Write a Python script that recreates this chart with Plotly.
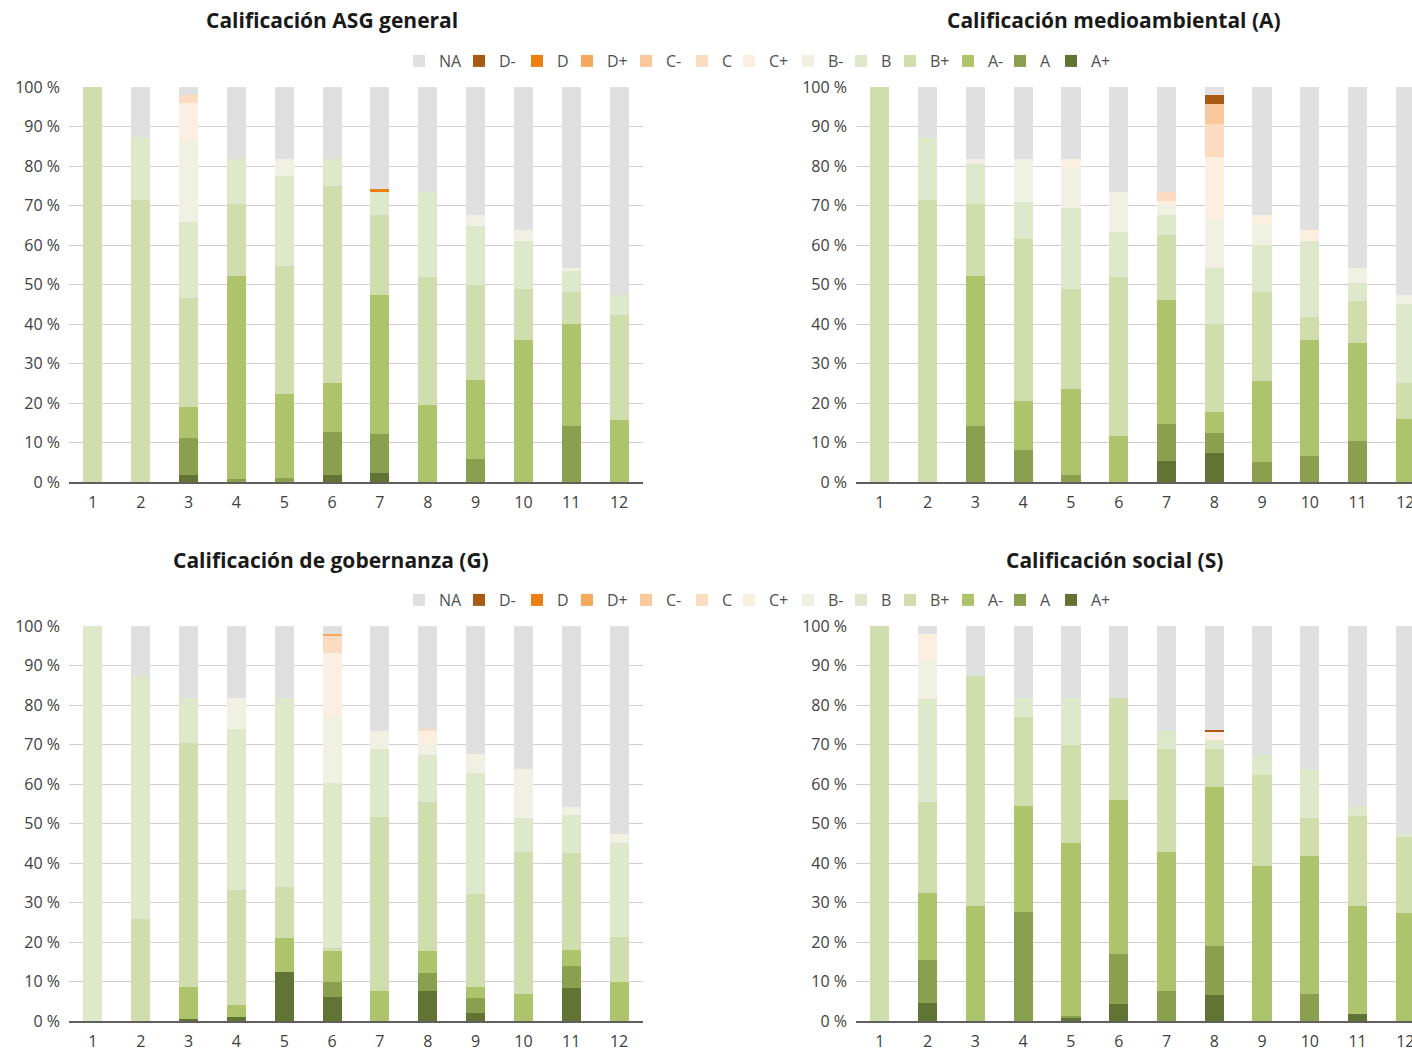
import plotly.graph_objects as go

# ---------------- data ----------------
bars = [1, 2, 3, 4, 5, 6, 7, 8, 9, 10, 11, 12]
# stacking order (bottom -> top)
grades = ["A+", "A", "A-", "B+", "B", "B-", "C+", "C", "C-", "D+", "D", "D-", "NA"]
# legend order (left -> right)
legend_order = ["NA", "D-", "D", "D+", "C-", "C", "C+", "B-", "B", "B+", "A-", "A", "A+"]
colors = {
    "NA": "#e0e0e0", "D-": "#a85a14", "D": "#ee8012", "D+": "#f5a95c",
    "C-": "#f9c99c", "C": "#fcdcc0", "C+": "#fbefe2", "B-": "#f0f1e2",
    "B": "#dee8cb", "B+": "#d0ddad", "A-": "#adc46c", "A": "#8ba04e", "A+": "#627434",
}
titles = ["Calificación ASG general", "Calificación medioambiental (A)",
          "Calificación de gobernanza (G)", "Calificación social (S)"]
ytick_vals = [0, 10, 20, 30, 40, 50, 60, 70, 80, 90, 100]
ytick_text = [f"{v} %" for v in ytick_vals]

# percentages per grade, bars 1..12
asg = {
    "A+": [0, 0, 1.7, 0, 0, 1.9, 2.4, 0, 0, 0, 0, 0],
    "A":  [0, 0, 9.4, 0.7, 0.9, 10.8, 9.8, 0, 5.8, 0, 14.3, 0],
    "A-": [0, 0, 7.9, 51.4, 21.4, 12.4, 35.1, 19.5, 20.0, 36.0, 25.8, 15.7],
    "B+": [100, 71.5, 27.5, 18.3, 32.3, 49.9, 20.3, 32.4, 24.0, 12.9, 7.9, 26.5],
    "B":  [0, 15.8, 19.2, 11.3, 22.8, 6.7, 5.8, 21.4, 15.0, 12.1, 5.6, 5.1],
    "B-": [0, 0, 20.6, 0, 4.3, 0, 0, 0, 2.9, 2.7, 0.5, 0],
    "C+": [0, 0, 9.6, 0, 0, 0, 0, 0, 0, 0, 0, 0],
    "C":  [0, 0, 2.1, 0, 0, 0, 0, 0, 0, 0, 0, 0],
    "C-": [0, 0, 0, 0, 0, 0, 0, 0, 0, 0, 0, 0],
    "D+": [0, 0, 0, 0, 0, 0, 0, 0, 0, 0, 0, 0],
    "D":  [0, 0, 0, 0, 0, 0, 0.8, 0, 0, 0, 0, 0],
    "D-": [0, 0, 0, 0, 0, 0, 0, 0, 0, 0, 0, 0],
    "NA": [0, 12.7, 2.0, 18.3, 18.3, 18.3, 25.8, 26.7, 32.3, 36.3, 45.9, 52.7],
}
env = {
    "A+": [0, 0, 0, 0, 0, 0, 5.2, 7.3, 0, 0, 0, 0],
    "A":  [0, 0, 14.3, 8.0, 1.7, 0, 9.6, 5.0, 5.0, 6.7, 10.5, 0],
    "A-": [0, 0, 37.8, 12.4, 21.8, 11.6, 31.4, 5.3, 20.5, 29.2, 24.8, 15.9],
    "B+": [100, 71.5, 18.2, 41.0, 25.3, 40.3, 16.4, 22.5, 22.5, 5.8, 10.4, 9.1],
    "B":  [0, 15.8, 10.2, 9.4, 20.5, 11.4, 5.1, 14.2, 12.1, 19.2, 4.8, 20.0],
    "B-": [0, 0, 1.2, 10.9, 10.5, 10.0, 2.5, 12.3, 5.3, 0, 3.6, 2.3],
    "C+": [0, 0, 0, 0, 1.9, 0, 1.0, 15.7, 2.3, 2.8, 0, 0],
    "C":  [0, 0, 0, 0, 0, 0, 2.1, 8.3, 0, 0, 0, 0],
    "C-": [0, 0, 0, 0, 0, 0, 0, 5.1, 0, 0, 0, 0],
    "D+": [0, 0, 0, 0, 0, 0, 0, 0, 0, 0, 0, 0],
    "D":  [0, 0, 0, 0, 0, 0, 0, 0, 0, 0, 0, 0],
    "D-": [0, 0, 0, 0, 0, 0, 0, 2.3, 0, 0, 0, 0],
    "NA": [0, 12.7, 18.3, 18.3, 18.3, 26.7, 26.7, 2.0, 32.3, 36.3, 45.9, 52.7],
}
gov = {
    "A+": [0, 0, 0.5, 1.0, 12.4, 6.1, 0, 7.6, 2.0, 0, 8.3, 0],
    "A":  [0, 0, 0, 0, 0, 3.8, 0, 4.5, 3.8, 0, 5.6, 0],
    "A-": [0, 0, 8.1, 3.0, 8.6, 7.9, 7.6, 5.6, 2.8, 6.8, 4.1, 9.9],
    "B+": [0, 25.9, 61.8, 29.2, 13.0, 0.6, 44.0, 37.7, 23.5, 35.9, 24.5, 11.3],
    "B":  [100, 61.4, 11.3, 40.8, 47.7, 41.8, 17.2, 11.9, 30.6, 8.6, 9.6, 23.8],
    "B-": [0, 0, 0, 7.7, 0, 16.7, 4.5, 3.2, 5.0, 12.4, 2.0, 2.3],
    "C+": [0, 0, 0, 0, 0, 16.2, 0, 2.9, 0, 0, 0, 0],
    "C":  [0, 0, 0, 0, 0, 4.4, 0, 0.6, 0, 0, 0, 0],
    "C-": [0, 0, 0, 0, 0, 0, 0, 0, 0, 0, 0, 0],
    "D+": [0, 0, 0, 0, 0, 0.5, 0, 0, 0, 0, 0, 0],
    "D":  [0, 0, 0, 0, 0, 0, 0, 0, 0, 0, 0, 0],
    "D-": [0, 0, 0, 0, 0, 0, 0, 0, 0, 0, 0, 0],
    "NA": [0, 12.7, 18.3, 18.3, 18.3, 2.0, 26.7, 26.0, 32.3, 36.3, 45.9, 52.7],
}
soc = {
    "A+": [0, 4.6, 0, 0, 0.8, 4.3, 0, 6.6, 0, 0, 1.8, 0],
    "A":  [0, 10.8, 0, 27.6, 0.5, 12.7, 7.6, 12.4, 0, 6.8, 0, 0],
    "A-": [0, 17.0, 29.1, 26.9, 43.7, 38.9, 35.1, 40.3, 39.3, 34.9, 27.3, 27.3],
    "B+": [100, 23.0, 58.2, 22.4, 24.8, 25.8, 26.1, 9.6, 22.9, 9.6, 22.8, 19.2],
    "B":  [0, 26.1, 0, 4.8, 11.9, 0, 4.5, 2.2, 5.2, 12.4, 2.2, 0.8],
    "B-": [0, 9.6, 0, 0, 0, 0, 0, 0, 0, 0, 0, 0],
    "C+": [0, 6.9, 0, 0, 0, 0, 0, 2.1, 0, 0, 0, 0],
    "C":  [0, 0, 0, 0, 0, 0, 0, 0, 0, 0, 0, 0],
    "C-": [0, 0, 0, 0, 0, 0, 0, 0, 0, 0, 0, 0],
    "D+": [0, 0, 0, 0, 0, 0, 0, 0, 0, 0, 0, 0],
    "D":  [0, 0, 0, 0, 0, 0, 0, 0, 0, 0, 0, 0],
    "D-": [0, 0, 0, 0, 0, 0, 0, 0.5, 0, 0, 0, 0],
    "NA": [0, 2.0, 12.7, 18.3, 18.3, 18.3, 26.7, 26.3, 32.6, 36.3, 45.9, 52.7],
}
panels = [asg, env, gov, soc]

# ---------------- figure ----------------
W, H = 1412, 1051
FONT = "Open Sans"
fig = go.Figure()

# pixel geometry of plot areas -> paper domains
x_doms = [(69 / W, 643 / W), (856 / W, 1.0)]
y_doms = [(1 - 482 / H, 1 - 87 / H), (1 - 1021 / H, 1 - 626 / H)]
x_ranges = [[0.5, 12.5], [0.5, 12.14]]

# legend entry positions (pixel centre of the swatch), one legend per entry
legend_px = [422, 482, 540, 590, 649, 705, 752, 811, 864, 913, 971, 1023, 1074]
legend_rows_y = [61, 600]


def legend_id(row, k):
    n = row * len(legend_order) + k + 1
    return "legend" if n == 1 else f"legend{n}"


for p, data in enumerate(panels):
    row, col = p // 2, p % 2
    idx = p + 1
    xa = "x" if idx == 1 else f"x{idx}"
    ya = "y" if idx == 1 else f"y{idx}"
    for g in grades:
        fig.add_trace(go.Bar(
            x=bars, y=data[g], name=g,
            marker=dict(color=colors[g], line=dict(width=0)),
            xaxis=xa, yaxis=ya,
            showlegend=(col == 0),
            legend=legend_id(row, legend_order.index(g)),
            hovertemplate=f"{g}: %{{y}} %<extra></extra>",
        ))
    ax_key = "xaxis" if idx == 1 else f"xaxis{idx}"
    ay_key = "yaxis" if idx == 1 else f"yaxis{idx}"
    fig.update_layout(**{
        ax_key: dict(
            domain=list(x_doms[col]), anchor=ya, range=x_ranges[col],
            tickvals=bars, ticktext=[str(b) for b in bars],
            showgrid=False, zeroline=False, showline=True,
            linecolor="#5f5f5f", linewidth=1.5, ticks="",
            tickfont=dict(family=FONT, size=16, color="#404040"),
            ticklabelstandoff=5, ticklabeloverflow="allow", fixedrange=True,
        ),
        ay_key: dict(
            domain=list(y_doms[row]), anchor=xa, range=[0, 100],
            tickvals=ytick_vals, ticktext=ytick_text,
            showgrid=True, gridcolor="#d0d0d0", gridwidth=1,
            zeroline=False, showline=False, ticks="",
            tickfont=dict(family=FONT, size=16, color="#404040"),
            ticklabelstandoff=8, fixedrange=True,
        ),
    })

title_pos = [(332, 20), (1114, 20), (331, 560), (1114, 560)]
for t, (tx, ty) in zip(titles, title_pos):
    fig.add_annotation(
        text=f"<b>{t}</b>", x=tx / W, y=1 - ty / H, xref="paper", yref="paper",
        xanchor="center", yanchor="middle", showarrow=False,
        font=dict(family=FONT, size=21, color="#1a1a1a"),
    )

legends = {}
for row, ly in enumerate(legend_rows_y):
    for k, cx in enumerate(legend_px):
        legends[legend_id(row, k)] = dict(
            orientation="h", xanchor="left", yanchor="middle",
            x=(cx - 3 - 20) / W, y=1 - ly / H,
            itemwidth=30, font=dict(family=FONT, size=16, color="#505050"),
            bgcolor="rgba(0,0,0,0)", borderwidth=0,
        )

fig.update_layout(
    width=W, height=H, barmode="stack", bargap=0.6,
    margin=dict(l=0, r=0, t=0, b=0, autoexpand=False),
    plot_bgcolor="white", paper_bgcolor="white",
    font=dict(family=FONT),
    **legends,
)

fig.write_html("out.html", config={"displayModeBar": False},
               post_script="document.body.style.margin='0';")
